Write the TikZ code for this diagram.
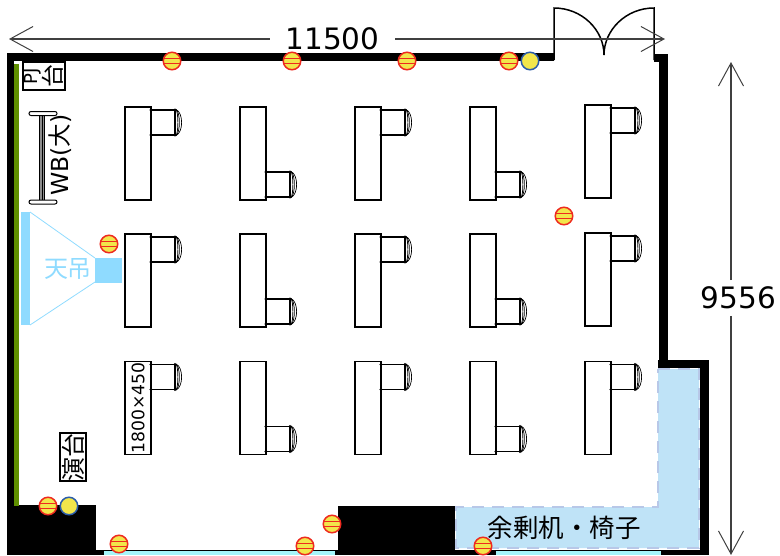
\documentclass[tikz,border=0pt]{standalone}
\usepackage{fontspec}
\setmainfont{DejaVu Sans}
\newfontfamily\cjk{Noto Sans CJK JP}
\usetikzlibrary{positioning,calc,arrows.meta,shapes.misc}
\definecolor{wallgreen}{HTML}{5F8F00}
\definecolor{beamblue}{HTML}{8FDBFF}
\definecolor{spareblue}{HTML}{BFE3F7}
\definecolor{sparedash}{HTML}{B8C8E8}
\definecolor{stripcyan}{HTML}{A5F5FA}
\definecolor{plugred}{HTML}{EE2A1F}
\definecolor{plugyellow}{HTML}{F2E64B}
\definecolor{plugblue}{HTML}{2A5CAA}
\tikzset{
  wall/.style={fill=black, draw=none},
  desk/.style={draw, rectangle, line width=1.3pt, fill=white, minimum width=26pt, minimum height=93pt, inner sep=0pt, outer sep=0pt},
  chair/.style={draw, rectangle, line width=1.3pt, fill=white, minimum width=24pt, minimum height=25pt, inner sep=0pt, outer sep=0pt, anchor=north west},
  labelbox/.style={draw, rectangle, line width=1.1pt, fill=white, rotate=90, inner sep=0pt, align=center},
  plug/.style={draw=plugred, circle, line width=1.5pt, fill=plugyellow, minimum size=17.5pt, inner sep=0pt,
    path picture={
      \draw [plugred, line width=1.3pt] ([yshift=2.6pt]path picture bounding box.west) -- ([yshift=2.6pt]path picture bounding box.east);
      \draw [plugred, line width=1.3pt] ([yshift=-2.6pt]path picture bounding box.west) -- ([yshift=-2.6pt]path picture bounding box.east);
    }},
  bluepoint/.style={draw=plugblue, circle, line width=1.5pt, fill=plugyellow, minimum size=17.5pt, inner sep=0pt},
  dimline/.style={line width=1.1pt, color=black!75, -{Straight Barb[length=23pt, width=25pt, line width=1pt]}},
  dimtext/.style={font=\fontsize{29.5}{29.5}\selectfont, inner xsep=15pt, inner ysep=6pt},
  backrest/.pic={
    \fill (0,-12.5) circle (1.6pt);
    \fill (0,12.5) circle (1.6pt);
    \fill (-24,-12.5) circle (1.6pt);
    \fill (-24,12.5) circle (1.6pt);
    \draw [line width=1.3pt] (0,-13) -- (0,13);
    \draw [line width=0.7pt] (1,-13) .. controls (3.5,-10) and (3.5,10) .. (1,13);
    \draw [line width=0.7pt] (1,-13) .. controls (5.5,-10) and (5.5,10) .. (1,13);
    \draw [line width=0.7pt] (1,-13) .. controls (8.5,-10) and (8.5,10) .. (1,13);
  }
}
% chair next to a desk: name, desk, offset from the desk's top
\newcommand{\seat}[3]{
  \node [chair] (#1) at ($(#2.north east)+(0,#3)$) {};
  \pic at (#1.east) {backrest};
}

\begin{document}
\begin{tikzpicture}[x=1pt, y=-1pt, line width=1.3pt]
  \useasboundingbox (0,0) rectangle (780,555);

  % Spare furniture area
  \draw [fill=spareblue, draw=sparedash, line width=1.5pt, dash pattern=on 12pt off 8pt]
    (658,369) -- (699,369) -- (699,548) -- (456,548) -- (456,507) -- (658,507) -- cycle;

  % Walls
  \fill [wall] (6.5,53) rectangle (554,61);
  \fill [wall] (6.5,53) rectangle (14,555);
  \fill [wall] (654,54) rectangle (667.5,62);
  \fill [wall] (659,54) rectangle (667.5,368);
  \fill [wall] (658,359.5) rectangle (709,368);
  \fill [wall] (700,359.5) rectangle (709,555);
  \fill [wall] (6.5,505) rectangle (96,555);
  \fill [wall] (96,550) rectangle (700,555);
  \fill [wall] (338,506) rectangle (455,555);
  \fill [stripcyan] (104,551) rectangle (335,555);
  \fill [stripcyan] (496,551) rectangle (661,555);
  \fill [wallgreen] (14,64) rectangle (19,506);

  % Door
  \draw [line width=1.5pt] (554,60) -- (554,8) .. controls (582,8) and (604,30) .. (604,55);
  \draw [line width=1.5pt] (654,60) -- (654,8) .. controls (626,8) and (604,30) .. (604,55);

  % Whiteboard
  \fill [black!45] (39,114) rectangle (44,202);
  \draw [line width=0.8pt] (39,114) -- (39,202);
  \draw [line width=0.8pt] (42,114) -- (42,202);
  \draw [line width=0.8pt] (44,114) -- (44,202);
  \node [draw, rectangle, rounded corners=2pt, line width=1pt, fill=white, minimum width=28pt, minimum height=4pt, inner sep=0pt] (CapTop) at (43,113.5) {};
  \node [draw, rectangle, rounded corners=2pt, line width=1pt, fill=white, minimum width=28pt, minimum height=4pt, inner sep=0pt] (CapBottom) at (43,202) {};
  \node [rotate=90, font=\fontsize{23.5}{23.5}\selectfont] (BoardText) at (60,155) {WB({\cjk 大})};

  % Projector table, lectern
  \node [labelbox, minimum width=28pt, minimum height=42pt, font=\fontsize{18}{20}\selectfont] (ProjTable) at (44,76) {PJ\\{\cjk\fontsize{23}{20}\selectfont 台}};
  \node [labelbox, minimum width=47pt, minimum height=26pt, font=\cjk\fontsize{24}{24}\selectfont] (Lectern) at (73,457) {演台};

  % Projector
  \fill [beamblue] (21,212) rectangle (30,325);
  \fill [beamblue] (95,258) rectangle (122,283);
  \draw [beamblue, line width=0.8pt] (30,212) -- (95,258);
  \draw [beamblue, line width=0.8pt] (30,325) -- (95,282);
  \node [font=\cjk\fontsize{24}{24}\selectfont, text=beamblue, inner sep=0pt] (BeamText) at (68,269) {天吊};

  % Row 1
  \node [desk] (Desk11) at (138,153.5) {};
  \node [desk, right=89pt of Desk11] (Desk12) {};
  \node [desk, right=89pt of Desk12] (Desk13) {};
  \node [desk, right=89pt of Desk13] (Desk14) {};
  \node [desk, right=89pt of Desk14, yshift=2pt] (Desk15) {};
  \seat{Seat11}{Desk11}{3}
  \seat{Seat12}{Desk12}{65}
  \seat{Seat13}{Desk13}{3}
  \seat{Seat14}{Desk14}{65}
  \seat{Seat15}{Desk15}{3}

  % Row 2
  \node [desk] (Desk21) at (138,280.5) {};
  \node [desk, right=89pt of Desk21] (Desk22) {};
  \node [desk, right=89pt of Desk22] (Desk23) {};
  \node [desk, right=89pt of Desk23] (Desk24) {};
  \node [desk, right=89pt of Desk24, yshift=1pt] (Desk25) {};
  \seat{Seat21}{Desk21}{3}
  \seat{Seat22}{Desk22}{65}
  \seat{Seat23}{Desk23}{3}
  \seat{Seat24}{Desk24}{65}
  \seat{Seat25}{Desk25}{3}

  % Row 3
  \node [desk] (Desk31) at (138,408) {};
  \node [desk, right=89pt of Desk31] (Desk32) {};
  \node [desk, right=89pt of Desk32] (Desk33) {};
  \node [desk, right=89pt of Desk33] (Desk34) {};
  \node [desk, right=89pt of Desk34] (Desk35) {};
  \seat{Seat31}{Desk31}{3}
  \seat{Seat32}{Desk32}{65}
  \seat{Seat33}{Desk33}{3}
  \seat{Seat34}{Desk34}{65}
  \seat{Seat35}{Desk35}{3}
  \node [rotate=90, font=\fontsize{17.2}{17.2}\selectfont, inner sep=0pt] (DeskSize) at (Desk31.center) {1800×450};

  % Outlets
  \node [plug] (Plug1) at (172,61) {};
  \node [plug] (Plug2) at (292,61) {};
  \node [plug] (Plug3) at (407,61) {};
  \node [plug] (Plug4) at (509,61) {};
  \node [plug] (Plug5) at (109,244) {};
  \node [plug] (Plug6) at (564,216) {};
  \node [plug] (Plug7) at (48,506) {};
  \node [plug] (Plug8) at (119,544) {};
  \node [plug] (Plug9) at (305,546) {};
  \node [plug] (Plug10) at (332,524) {};
  \node [plug] (Plug11) at (483,546) {};
  \node [bluepoint] (Point1) at (530,61) {};
  \node [bluepoint] (Point2) at (69,506) {};

  % Spare label
  \node [font=\cjk\fontsize{25.5}{25.5}\selectfont, inner sep=0pt] (SpareText) at (564,528) {余剰机・椅子};

  % Dimensions
  \node [dimtext] (DimW) at (332.5,39) {11500};
  \coordinate (DimWL) at (9,39);
  \coordinate (DimWR) at (665,39);
  \draw [dimline] (DimW.west) -- (DimWL);
  \draw [dimline] (DimW.east) -- (DimWR);

  \node [dimtext, inner xsep=0pt] (DimH) at (738.5,298) {9556};
  \coordinate (DimHT) at (731,62);
  \coordinate (DimHB) at (731,555);
  \draw [dimline] (DimHT |- DimH.north) -- (DimHT);
  \draw [dimline] (DimHT |- DimH.south) -- (DimHB);
\end{tikzpicture}
\end{document}
